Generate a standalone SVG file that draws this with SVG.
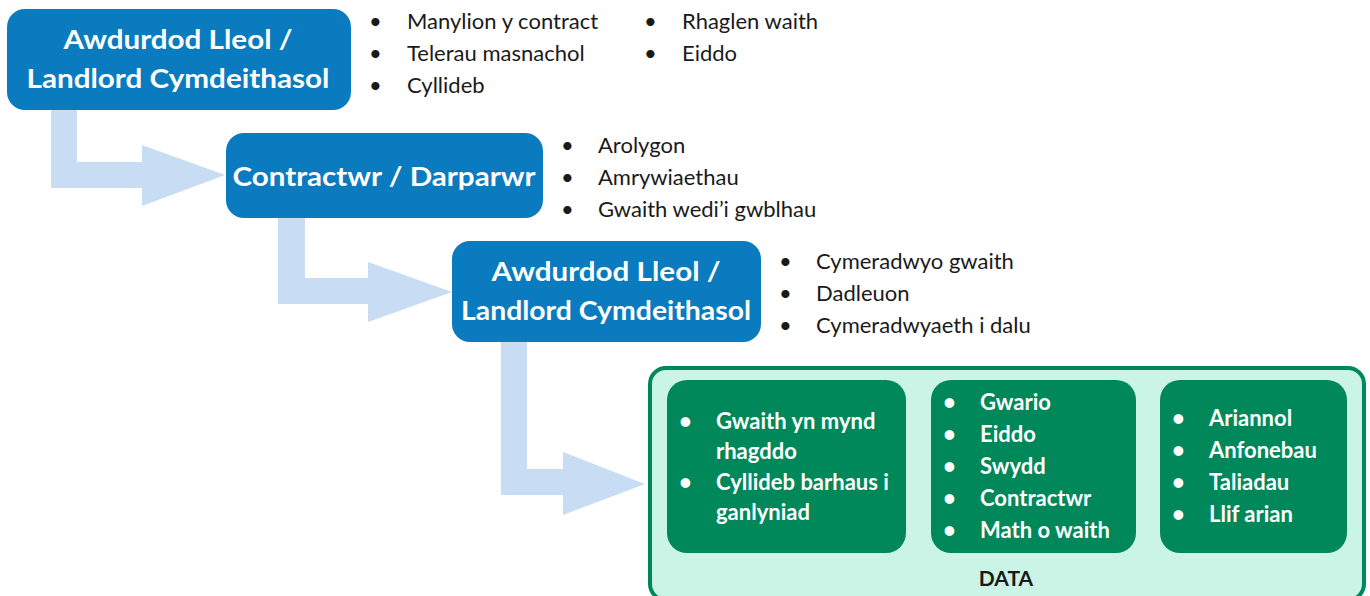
<svg xmlns="http://www.w3.org/2000/svg" width="1370" height="596" viewBox="0 0 1370 596">
<style>
.blue{fill:#0a7bbf}
.arrow{fill:#c8ddf3}
.title{font-family:Lato,"Open Sans",sans-serif;font-weight:bold;font-size:27px;fill:#fff;text-anchor:middle}
.list{font-family:Lato,"Open Sans",sans-serif;font-size:22px;fill:#1a1a1a}
.glist{font-family:Lato,"Open Sans",sans-serif;font-weight:bold;font-size:22px;fill:#fff}
.inner{fill:#00885a}
.data{font-family:Lato,"Liberation Sans",sans-serif;font-weight:bold;font-size:21px;fill:#1a1a1a;text-anchor:middle}
</style>
<g id="connectors">
<path class="arrow" d="M51 110 H77 V162 H142 V145 L225 175 L142 206 V188 H51 Z"/>
<path class="arrow" d="M278 218 H305 V278 H368 V262 L452 292 L368 322 V304 H278 Z"/>
<path class="arrow" d="M501 342 H527 V469 H563 V452 L645 484 L563 515 V495 H501 Z"/>
</g>
<g id="node1">
<rect class="blue" x="7" y="9" width="344" height="101" rx="18"/>
<text class="title" x="178" y="49" textLength="229" lengthAdjust="spacingAndGlyphs">Awdurdod Lleol /</text>
<text class="title" x="178" y="88" textLength="303" lengthAdjust="spacingAndGlyphs">Landlord Cymdeithasol</text>
</g>
<g id="list1">
<text class="list" x="369" y="29">•</text><text class="list" x="407" y="29">Manylion y contract</text>
<text class="list" x="369" y="61">•</text><text class="list" x="407" y="61">Telerau masnachol</text>
<text class="list" x="369" y="93">•</text><text class="list" x="407" y="93">Cyllideb</text>
<text class="list" x="644" y="29">•</text><text class="list" x="682" y="29">Rhaglen waith</text>
<text class="list" x="644" y="61">•</text><text class="list" x="682" y="61">Eiddo</text>
</g>
<g id="node2">
<rect class="blue" x="226" y="133" width="317" height="85" rx="18"/>
<text class="title" x="384" y="186" textLength="303" lengthAdjust="spacingAndGlyphs">Contractwr / Darparwr</text>
</g>
<g id="list2">
<text class="list" x="561" y="153">•</text><text class="list" x="598" y="153">Arolygon</text>
<text class="list" x="561" y="185">•</text><text class="list" x="598" y="185">Amrywiaethau</text>
<text class="list" x="561" y="217">•</text><text class="list" x="598" y="217">Gwaith wedi’i gwblhau</text>
</g>
<g id="node3">
<rect class="blue" x="452" y="241" width="309" height="101" rx="18"/>
<text class="title" x="606" y="281" textLength="229" lengthAdjust="spacingAndGlyphs">Awdurdod Lleol /</text>
<text class="title" x="606" y="320" textLength="290" lengthAdjust="spacingAndGlyphs">Landlord Cymdeithasol</text>
</g>
<g id="list3">
<text class="list" x="779" y="269">•</text><text class="list" x="816" y="269">Cymeradwyo gwaith</text>
<text class="list" x="779" y="301">•</text><text class="list" x="816" y="301">Dadleuon</text>
<text class="list" x="779" y="333">•</text><text class="list" x="816" y="333">Cymeradwyaeth i dalu</text>
</g>
<g id="data">
<rect x="650" y="368" width="714" height="232" rx="16" fill="#c9f4e6" stroke="#00875a" stroke-width="4"/>
<text class="data" x="1006" y="586">DATA</text>
</g>
<g id="data1">
<rect class="inner" x="667" y="380" width="239" height="173" rx="20"/>
<text class="glist" x="679" y="429">•</text><text class="glist" x="716" y="429">Gwaith yn mynd</text>
<text class="glist" x="716" y="459">rhagddo</text>
<text class="glist" x="679" y="490">•</text><text class="glist" x="716" y="490">Cyllideb barhaus i</text>
<text class="glist" x="716" y="520">ganlyniad</text>
</g>
<g id="data2">
<rect class="inner" x="931" y="380" width="205" height="173" rx="20"/>
<text class="glist" x="943" y="410">•</text><text class="glist" x="980" y="410">Gwario</text>
<text class="glist" x="943" y="442">•</text><text class="glist" x="980" y="442">Eiddo</text>
<text class="glist" x="943" y="474">•</text><text class="glist" x="980" y="474">Swydd</text>
<text class="glist" x="943" y="506">•</text><text class="glist" x="980" y="506">Contractwr</text>
<text class="glist" x="943" y="538">•</text><text class="glist" x="980" y="538">Math o waith</text>
</g>
<g id="data3">
<rect class="inner" x="1160" y="380" width="187" height="173" rx="20"/>
<text class="glist" x="1172" y="426">•</text><text class="glist" x="1209" y="426">Ariannol</text>
<text class="glist" x="1172" y="458">•</text><text class="glist" x="1209" y="458">Anfonebau</text>
<text class="glist" x="1172" y="490">•</text><text class="glist" x="1209" y="490">Taliadau</text>
<text class="glist" x="1172" y="522">•</text><text class="glist" x="1209" y="522">Llif arian</text>
</g>
</svg>
